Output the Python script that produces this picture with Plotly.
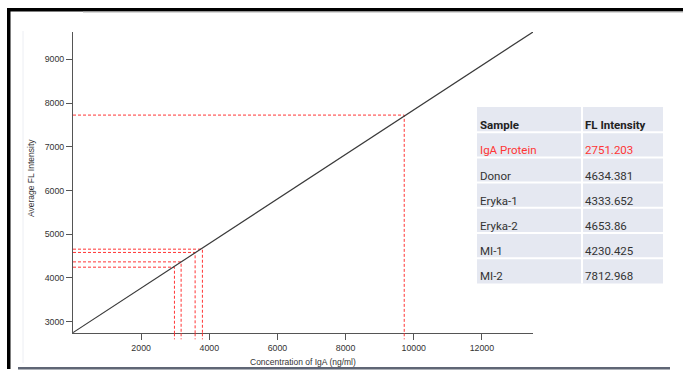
import plotly.graph_objects as go

# ---- data ----
samples = ["IgA Protein", "Donor", "Eryka-1", "Eryka-2", "MI-1", "MI-2"]
fl_intensity_text = ["2751.203", "4634.381", "4333.652", "4653.86", "4230.425", "7812.968"]

curve_conc = [0, 13500]
curve_fl = [2751, 9625]

guide_samples = ["Donor", "Eryka-1", "Eryka-2", "MI-1", "MI-2"]
guide_conc = [3584, 3173, 3798, 2977, 9721]
guide_fl = [4584, 4368, 4659, 4247, 7725]

x_ticks = [2000, 4000, 6000, 8000, 10000, 12000]
x_tick_labels = ["2000", "4000", "6000", "8000", "10000", "12000"]
y_ticks = [3000, 4000, 5000, 6000, 7000, 8000, 9000]
y_tick_labels = ["3000", "4000", "5000", "6000", "7000", "8000", "9000"]

X_RANGE = [0, 13500]
Y_RANGE = [2735, 9625]

W, H = 683, 373


def px(xp):
    return xp / W


def py(yp):
    return 1 - yp / H


fig = go.Figure()

RED = "#ff3535"
for s, c, f in zip(guide_samples, guide_conc, guide_fl):
    fig.add_trace(go.Scatter(
        x=[X_RANGE[0], c, c], y=[f, f, Y_RANGE[0]], mode="lines",
        line=dict(color=RED, width=1, dash="3px,2px"), name=s,
        showlegend=False, hoverinfo="skip"))

fig.add_trace(go.Scatter(
    x=curve_conc, y=curve_fl, mode="lines",
    line=dict(color="#3a3a3a", width=1.2), showlegend=False))

shapes = []
# short dashed stubs below the x axis
for c in guide_conc:
    shapes.append(dict(type="line", xref="x", yref="y domain", x0=c, x1=c,
                       y0=0, y1=-0.02, line=dict(color=RED, width=1, dash="3px,2px")))

# screenshot frame
shapes += [
    dict(type="rect", xref="paper", yref="paper", x0=px(7), x1=px(683), y0=py(8), y1=py(11.5),
         fillcolor="#000000", line=dict(width=0)),
    dict(type="rect", xref="paper", yref="paper", x0=px(683 - 600), x1=px(683), y0=py(11.5), y1=py(12.5),
         fillcolor="#b0b0b0", line=dict(width=0)),
    dict(type="rect", xref="paper", yref="paper", x0=px(7), x1=px(10.5), y0=py(8), y1=py(369),
         fillcolor="#000000", line=dict(width=0)),
    dict(type="rect", xref="paper", yref="paper", x0=px(18), x1=px(670), y0=py(367), y1=py(369.5),
         fillcolor="#5f6675", line=dict(width=0)),
    dict(type="line", xref="paper", yref="paper", x0=px(23), x1=px(23), y0=py(31), y1=py(363),
         line=dict(color="#eceef3", width=1)),
]

# table
TL, TR, TC = 477, 663, 582
TT, RH = 107, 25.2
n_rows = len(samples) + 1
TB = TT + RH * n_rows
shapes.append(dict(type="rect", xref="paper", yref="paper", x0=px(TL), x1=px(TR), y0=py(TT), y1=py(TB),
                   fillcolor="#e5e8f1", line=dict(width=0)))
shapes.append(dict(type="line", xref="paper", yref="paper", x0=px(TC), x1=px(TC), y0=py(TT), y1=py(TB),
                   line=dict(color="#ffffff", width=2)))
for i in range(1, n_rows):
    yy = TT + RH * i
    shapes.append(dict(type="line", xref="paper", yref="paper", x0=px(TL), x1=px(TR), y0=py(yy), y1=py(yy),
                       line=dict(color="#ffffff", width=2)))

annotations = []
TEXT_POS = 0.72
header = ["Sample", "FL Intensity"]
for j, htxt in enumerate(header):
    annotations.append(dict(text="<b>%s</b>" % htxt, xref="paper", yref="paper",
                            x=px([TL, TC][j] + 1), y=py(TT + RH * TEXT_POS), xanchor="left", yanchor="middle",
                            showarrow=False, font=dict(family="Roboto", size=11.5, color="#222222")))
for i, (s, v) in enumerate(zip(samples, fl_intensity_text)):
    col = RED if i == 0 else "#333333"
    yc = TT + RH * (i + 1) + RH * TEXT_POS
    annotations.append(dict(text=s, xref="paper", yref="paper", x=px(TL + 1), y=py(yc),
                            xanchor="left", yanchor="middle", showarrow=False,
                            font=dict(family="Roboto", size=11.5, color=col)))
    annotations.append(dict(text=v, xref="paper", yref="paper", x=px(TC + 1), y=py(yc),
                            xanchor="left", yanchor="middle", showarrow=False,
                            font=dict(family="Roboto", size=11.5, color=col)))

# axis titles
annotations.append(dict(text="Concentration of IgA (ng/ml)", xref="paper", yref="paper",
                        x=px(303), y=py(362), xanchor="center", yanchor="middle", showarrow=False,
                        font=dict(family="Liberation Sans, Arial", size=8.5, color="#333333")))
annotations.append(dict(text="Average FL Intensity", xref="paper", yref="paper",
                        x=px(31), y=py(178), xanchor="center", yanchor="middle", showarrow=False,
                        textangle=-90,
                        font=dict(family="Liberation Sans, Arial", size=8.5, color="#333333")))

axis_common = dict(showgrid=False, zeroline=False, showline=True, linecolor="#555555", linewidth=1,
                   ticks="outside", ticklen=6, tickcolor="#555555", tickwidth=1,
                   tickfont=dict(family="Liberation Sans, Arial", size=8.8, color="#333333"))

fig.update_layout(
    width=W, height=H, margin=dict(l=0, r=0, t=0, b=0),
    paper_bgcolor="#ffffff", plot_bgcolor="#ffffff",
    xaxis=dict(domain=[px(73), px(533)], range=X_RANGE, tickvals=x_ticks, ticktext=x_tick_labels,
               **axis_common),
    yaxis=dict(domain=[py(333.3), py(32)], range=Y_RANGE, tickvals=y_ticks, ticktext=y_tick_labels,
               **axis_common),
    shapes=shapes, annotations=annotations, showlegend=False,
)

fig.write_html("out.html", config={"displayModeBar": False},
               post_script="document.body.style.margin='0px';document.body.style.overflow='hidden';")
